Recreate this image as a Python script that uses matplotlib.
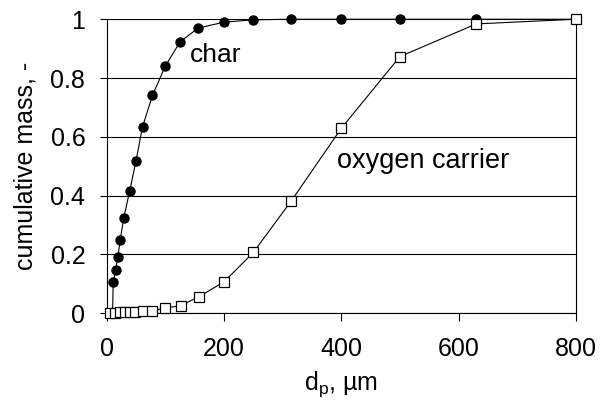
import matplotlib
matplotlib.use("Agg")
import matplotlib.pyplot as plt

plt.rcParams['font.family'] = ['Liberation Sans', 'DejaVu Sans']
plt.rcParams['mathtext.fontset'] = 'custom'
plt.rcParams['mathtext.rm'] = 'Liberation Sans'
plt.rcParams['mathtext.it'] = 'Liberation Sans'

# data
char_x = [10, 11, 15, 19, 23, 29, 39, 50, 61, 78, 100, 125, 156, 200, 250, 315, 400, 500, 630, 800]
char_y = [0, 0.105, 0.146, 0.191, 0.25, 0.324, 0.415, 0.519, 0.634, 0.741, 0.841, 0.923, 0.97,
          0.99, 0.998, 1.0, 1.0, 1.0, 1.0, 1.0]
oc_x = [6, 14, 22, 31, 40, 48, 61, 78, 100, 126, 157, 200, 250, 315, 400, 500, 630, 800]
oc_y = [0.001, 0.002, 0.003, 0.004, 0.005, 0.006, 0.009, 0.009, 0.018, 0.026, 0.056, 0.107,
        0.207, 0.383, 0.629, 0.873, 0.984, 1.0]
x_ticks = [0, 200, 400, 600, 800]
y_ticks = [0, 0.2, 0.4, 0.6, 0.8, 1.0]
y_labels = ['0', '0.2', '0.4', '0.6', '0.8', '1']

fig = plt.figure(figsize=(6.03, 4.09), dpi=100)
ax = fig.add_axes([0.177, 0.234, 0.778, 0.719])

ax.set_xlim(0, 800)
ax.set_ylim(0, 1)
for y in y_ticks:
    ax.axhline(y, color='black', lw=0.8, zorder=1)

ax.plot(char_x, char_y, color='black', lw=0.8, marker='o', markersize=6.5,
        markerfacecolor='black', markeredgecolor='black', zorder=2, clip_on=False)
ax.plot(oc_x, oc_y, color='black', lw=0.8, marker='s', markersize=7,
        markerfacecolor='white', markeredgecolor='black', markeredgewidth=0.9, zorder=4, clip_on=False)

ax.text(186, 0.856, 'char', fontsize=19, ha='center', va='baseline')
ax.text(540, 0.493, 'oxygen carrier', fontsize=19.5, ha='center', va='baseline')

ax.set_xticks(x_ticks)
ax.set_xticklabels([str(v) for v in x_ticks])
ax.set_yticks(y_ticks)
ax.set_yticklabels(y_labels)
ax.tick_params(axis='both', direction='out', width=0.8, labelsize=18, colors='black')
ax.tick_params(axis='x', length=6, pad=11)
ax.tick_params(axis='y', length=5.4, pad=10)

ax.spines['top'].set_visible(False)
for s in ['left', 'bottom', 'right']:
    ax.spines[s].set_linewidth(0.8)
    ax.spines[s].set_color('black')

ax.set_xlabel(r'd$_\mathrm{p}$, µm', fontsize=18, labelpad=6)
ax.set_ylabel('cumulative mass, -', fontsize=18, labelpad=9)

fig.savefig('out.png', dpi=100)
